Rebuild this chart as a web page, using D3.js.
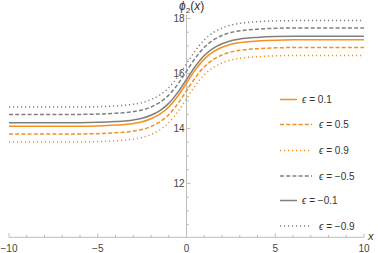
<!DOCTYPE html>
<html>
<head>
<meta charset="utf-8">
<script src="https://cdn.jsdelivr.net/npm/d3@7"></script>
<style>
  body { margin: 0; background: #fff; }
  svg { font-family: "Liberation Sans", "DejaVu Sans", sans-serif; }
  .tick-label { font-size: 10px; fill: #444; }
  .legend-label { font-size: 10px; fill: #333; }
</style>
</head>
<body>
<svg width="378" height="253"></svg>
<script>
// values
const xs = [-10, -6, -5, -4, -3, -2.5, -2, -1.5, -1, -0.5, 0, 0.5, 1, 1.5, 2, 2.5, 3, 4, 5, 6, 10];

const eps01 = [14.08, 14.08, 14.09, 14.12, 14.18, 14.24, 14.35, 14.52, 14.78, 15.17, 15.65, 16.13, 16.52, 16.78, 16.95, 17.06, 17.12, 17.18, 17.21, 17.22, 17.22];
const eps05 = [13.80, 13.80, 13.81, 13.84, 13.90, 13.96, 14.07, 14.24, 14.50, 14.89, 15.37, 15.85, 16.24, 16.50, 16.67, 16.78, 16.84, 16.90, 16.93, 16.94, 16.94];
const eps09 = [13.51, 13.51, 13.52, 13.55, 13.61, 13.67, 13.78, 13.95, 14.21, 14.60, 15.08, 15.56, 15.95, 16.21, 16.38, 16.49, 16.55, 16.61, 16.64, 16.65, 16.65];
const epsM05 = [14.51, 14.51, 14.52, 14.55, 14.61, 14.67, 14.78, 14.95, 15.21, 15.60, 16.08, 16.56, 16.95, 17.21, 17.38, 17.49, 17.55, 17.61, 17.64, 17.65, 17.65];
const epsM01 = [14.21, 14.21, 14.22, 14.25, 14.31, 14.37, 14.48, 14.65, 14.91, 15.30, 15.78, 16.26, 16.65, 16.91, 17.08, 17.19, 17.25, 17.31, 17.34, 17.35, 17.35];
const epsM09 = [14.78, 14.78, 14.79, 14.82, 14.88, 14.94, 15.05, 15.22, 15.48, 15.87, 16.35, 16.83, 17.22, 17.48, 17.65, 17.76, 17.82, 17.88, 17.91, 17.92, 17.92];

const seriesNames = ['0.1', '0.5', '0.9', '\u22120.5', '\u22120.1', '\u22120.9'];
const seriesValues = [eps01, eps05, eps09, epsM05, epsM01, epsM09];

const xTicks = [-10, -5, 0, 5, 10];
const yTicks = [12, 14, 16, 18];

function whenLoaded() {
    const svg = d3.select('svg');

    const orange = '#f5901f';
    const gray = '#808080';
    const styles = [
        {color: orange, dash: null, legendLen: 17, textX: 302},
        {color: orange, dash: '4,2.2', legendLen: 32, textX: 319},
        {color: orange, dash: '1.2,2.8', legendLen: 32, textX: 319},
        {color: gray, dash: '4,2.2', legendLen: 32, textX: 319},
        {color: gray, dash: null, legendLen: 17, textX: 302},
        {color: gray, dash: '1.2,2.8', legendLen: 32, textX: 319}
    ];

    const xScale = d3.scaleLinear().domain([-10, 10]).range([9, 364]);
    const yScale = d3.scaleLinear().domain([10.04, 18.15]).range([237.3, 14.3]);

    const axisColor = '#bdbdbd';
    const x0 = xScale(0);
    const yBase = yScale.range()[0];

    // axes lines
    svg.append('line')
        .attr('x1', xScale(-10)).attr('x2', xScale(10))
        .attr('y1', yBase).attr('y2', yBase)
        .attr('stroke', axisColor).attr('stroke-width', 1);
    svg.append('line')
        .attr('x1', x0).attr('x2', x0)
        .attr('y1', yScale.range()[1]).attr('y2', yBase)
        .attr('stroke', axisColor).attr('stroke-width', 1);

    // x ticks (major + minor)
    const xMinor = d3.range(-10, 10.01, 1);
    svg.append('g').selectAll('line').data(xMinor).enter().append('line')
        .attr('x1', d => xScale(d)).attr('x2', d => xScale(d))
        .attr('y1', yBase).attr('y2', d => yBase - (d % 5 === 0 ? 4 : 2.5))
        .attr('stroke', axisColor);
    svg.append('g').selectAll('text').data(xTicks).enter().append('text')
        .attr('class', 'tick-label')
        .attr('x', d => xScale(d))
        .attr('y', 252)
        .attr('text-anchor', 'middle')
        .text(d => d < 0 ? '\u2212' + Math.abs(d) : d);

    // y ticks
    const yMinor = d3.range(10.5, 18.01, 0.5);
    svg.append('g').selectAll('line').data(yMinor).enter().append('line')
        .attr('x1', x0).attr('x2', d => x0 + (d % 2 === 0 ? 4 : 2.5))
        .attr('y1', d => yScale(d)).attr('y2', d => yScale(d))
        .attr('stroke', axisColor);
    svg.append('g').selectAll('text').data(yTicks).enter().append('text')
        .attr('class', 'tick-label')
        .attr('x', x0 - 2)
        .attr('y', d => yScale(d) + 3.5)
        .attr('text-anchor', 'end')
        .text(d => d);

    // axis labels
    const yl = svg.append('text').attr('x', 179).attr('y', 10).attr('font-size', 12).attr('fill', '#333');
    yl.append('tspan').attr('font-style', 'italic').text('\u03d5');
    yl.append('tspan').attr('font-size', 8).attr('dy', 2.5).text('2');
    yl.append('tspan').attr('dy', -2.5).text('(');
    yl.append('tspan').attr('font-style', 'italic').text('x');
    yl.append('tspan').text(')');

    svg.append('text').attr('x', 368).attr('y', 240)
        .attr('font-size', 11).attr('font-style', 'italic').attr('fill', '#333')
        .text('x');

    // curves
    const line = d3.line()
        .x(d => xScale(d[0]))
        .y(d => yScale(d[1]))
        .curve(d3.curveMonotoneX);

    seriesValues.forEach((vals, i) => {
        const pts = xs.map((x, j) => [x, vals[j]]);
        svg.append('path')
            .attr('d', line(pts))
            .attr('fill', 'none')
            .attr('stroke', styles[i].color)
            .attr('stroke-width', 1.5)
            .attr('stroke-dasharray', styles[i].dash);
    });

    // legend
    const legendY = [99.5, 124.5, 150.5, 176, 200.5, 226];
    seriesNames.forEach((name, i) => {
        const s = styles[i];
        svg.append('line')
            .attr('x1', 280).attr('x2', 280 + s.legendLen)
            .attr('y1', legendY[i]).attr('y2', legendY[i])
            .attr('stroke', s.color)
            .attr('stroke-width', 1.5)
            .attr('stroke-dasharray', s.dash);
        const t = svg.append('text')
            .attr('class', 'legend-label')
            .attr('x', s.textX)
            .attr('y', legendY[i] + 3.5);
        t.append('tspan').attr('font-style', 'italic').text('\u03f5');
        t.append('tspan').text(' = ' + name);
    });
}

window.onload = whenLoaded;
</script>
</body>
</html>
